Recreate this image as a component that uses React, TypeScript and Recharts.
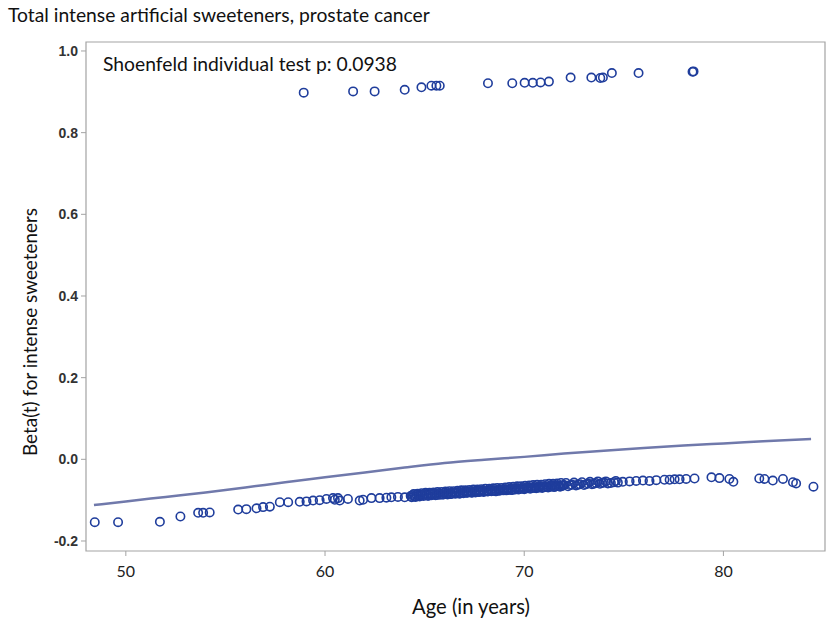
import React from "react";
import {
  ComposedChart,
  XAxis,
  YAxis,
  Scatter,
  Line,
  ReferenceArea,
} from "recharts";

const xTicks = [50, 60, 70, 80];
const yTicks = [-0.2, 0, 0.2, 0.4, 0.6, 0.8, 1.0];

const topAges = [58.93, 61.41, 62.49, 64.0, 64.84, 65.34, 65.59, 65.76, 68.18, 69.4, 70.02, 70.43, 70.82, 71.24, 72.33, 73.37, 73.82, 73.95, 74.4, 75.74, 78.45, 78.5];
const topBetas = [0.898, 0.901, 0.901, 0.905, 0.911, 0.915, 0.915, 0.915, 0.921, 0.921, 0.922, 0.922, 0.923, 0.925, 0.935, 0.935, 0.934, 0.935, 0.946, 0.946, 0.949, 0.95];

const bottomAges = [
  48.44, 49.61, 51.71, 52.74, 53.63, 53.88, 54.21, 55.64, 56.05, 56.56, 56.89, 57.23, 57.73, 58.15,
  58.73, 59.07, 59.4, 59.73, 60.07, 60.4, 60.65,
  60.49, 60.74, 61.15, 61.74, 61.91, 62.33, 62.74, 63.08, 63.33, 63.66, 64.0,
  64.3, 64.4, 64.5, 64.6, 64.7, 64.8, 64.9, 65.0, 65.1, 65.2, 65.3, 65.4, 65.5, 65.6, 65.7, 65.8, 65.9,
  66.0, 66.1, 66.2, 66.3, 66.4, 66.5, 66.6, 66.7, 66.8, 66.9, 67.0, 67.1, 67.2, 67.3, 67.4, 67.5, 67.6,
  67.7, 67.8, 67.9, 68.0, 68.1, 68.2, 68.3, 68.4, 68.5, 68.6, 68.7, 68.8, 68.9, 69.0, 69.1, 69.2, 69.3,
  69.4, 69.5, 69.6, 69.7, 69.8, 69.9, 70.0, 70.1, 70.2, 70.3, 70.4, 70.5, 70.6, 70.7, 70.8, 70.9, 71.0,
  71.1, 71.2, 71.3, 71.4, 71.5, 71.6, 71.7, 71.8, 71.9, 72.0, 72.2, 72.4, 72.6, 72.8, 73.0, 73.2, 73.4,
  73.6, 73.8, 74.0, 74.2, 74.5, 74.7,
  74.95, 75.29, 75.62, 75.96, 76.29, 76.63, 77.04, 77.3, 77.55, 77.8, 78.13, 78.55,
  79.4, 79.8, 80.3, 80.5, 81.8, 82.06, 82.48, 82.99, 83.49, 83.65, 84.52,
];
const bottomBetas = [
  -0.154, -0.154, -0.153, -0.14, -0.131, -0.131, -0.13, -0.123, -0.122, -0.12, -0.117, -0.116, -0.105, -0.105,
  -0.104, -0.103, -0.101, -0.1, -0.097, -0.095, -0.095,
  -0.099, -0.101, -0.097, -0.101, -0.099, -0.095, -0.095, -0.094, -0.093, -0.092, -0.093,
  -0.09, -0.088, -0.091, -0.087, -0.089, -0.086, -0.088, -0.085, -0.087, -0.089, -0.085, -0.086, -0.084, -0.087, -0.083, -0.085, -0.086,
  -0.082, -0.084, -0.083, -0.085, -0.081, -0.083, -0.082, -0.08, -0.083, -0.081, -0.079, -0.082, -0.08, -0.078, -0.081, -0.079, -0.077,
  -0.08, -0.078, -0.076, -0.079, -0.077, -0.078, -0.075, -0.077, -0.076, -0.078, -0.074, -0.076, -0.075, -0.073, -0.076, -0.074, -0.072,
  -0.075, -0.073, -0.071, -0.074, -0.072, -0.07, -0.073, -0.071, -0.069, -0.072, -0.07, -0.068, -0.071, -0.069, -0.067, -0.07, -0.068,
  -0.066, -0.069, -0.067, -0.065, -0.068, -0.066, -0.064, -0.067, -0.065, -0.063, -0.066, -0.062, -0.064, -0.061, -0.063, -0.059, -0.061,
  -0.058, -0.06, -0.057, -0.059, -0.056, -0.057,
  -0.055, -0.054, -0.053, -0.052, -0.053, -0.051, -0.05, -0.05, -0.049, -0.049, -0.048, -0.047,
  -0.044, -0.046, -0.048, -0.055, -0.047, -0.048, -0.052, -0.048, -0.056, -0.059, -0.067,
];

// second, interleaved layer of the dense middle band
const bandAges = [
  64.35, 64.45, 64.55, 64.65, 64.75, 64.85, 64.95, 65.05, 65.15, 65.25, 65.35, 65.45, 65.55, 65.65, 65.75, 65.85, 65.95,
  66.05, 66.15, 66.25, 66.35, 66.45, 66.55, 66.65, 66.75, 66.85, 66.95, 67.05, 67.15, 67.25, 67.35, 67.45, 67.55, 67.65,
  67.75, 67.85, 67.95, 68.05, 68.15, 68.25, 68.35, 68.45, 68.55, 68.65, 68.75, 68.85, 68.95, 69.05, 69.15, 69.25, 69.35,
  69.45, 69.55, 69.65, 69.75, 69.85, 69.95, 70.05, 70.15, 70.25, 70.35, 70.45, 70.55, 70.65, 70.75, 70.85, 70.95, 71.05,
  71.15, 71.25, 71.35, 71.45, 71.55, 71.65, 71.75, 71.85, 71.95, 72.1, 72.3, 72.5, 72.7, 72.9, 73.1, 73.3, 73.5, 73.7,
  73.9, 74.1, 74.35, 74.6,
];
const bandBetas = [
  -0.093, -0.085, -0.092, -0.084, -0.091, -0.083, -0.09, -0.082, -0.089, -0.082, -0.088, -0.081, -0.088, -0.08, -0.087, -0.08, -0.086,
  -0.079, -0.086, -0.078, -0.085, -0.078, -0.084, -0.077, -0.084, -0.076, -0.083, -0.076, -0.082, -0.075, -0.082, -0.074, -0.081, -0.074,
  -0.08, -0.073, -0.08, -0.072, -0.079, -0.072, -0.078, -0.071, -0.078, -0.07, -0.077, -0.07, -0.076, -0.069, -0.075, -0.068, -0.075,
  -0.067, -0.074, -0.066, -0.073, -0.066, -0.072, -0.065, -0.071, -0.064, -0.07, -0.063, -0.07, -0.062, -0.069, -0.062, -0.068, -0.061,
  -0.067, -0.06, -0.066, -0.06, -0.065, -0.059, -0.064, -0.058, -0.064, -0.058, -0.063, -0.057, -0.062, -0.056, -0.061, -0.055, -0.06, -0.054,
  -0.058, -0.054, -0.058, -0.053,
];

const curveAges = [48.4, 50, 52, 54, 56, 58, 60, 62, 64, 66, 68, 70, 72, 74, 76, 78, 80, 82, 84.4];
const curveBetas = [-0.112, -0.103, -0.092, -0.081, -0.069, -0.056, -0.044, -0.032, -0.02, -0.009, -0.001, 0.006, 0.014, 0.021, 0.028, 0.034, 0.039, 0.044, 0.05];

const topData = topAges.map((a, i) => ({ age: a, beta: topBetas[i] }));
const bottomData = bottomAges.map((a, i) => ({ age: a, beta: bottomBetas[i] }));
const bandData = bandAges.map((a, i) => ({ age: a, beta: bandBetas[i] }));
const curveData = curveAges.map((a, i) => ({ age: a, beta: curveBetas[i] }));

const X_DOMAIN: [number, number] = [48, 85.1];
const Y_DOMAIN: [number, number] = [-0.2245, 1.022];

const POINT = "#1f3d9c";
const FRAME = "#a3a3a3";
const FONT = "Lato, 'Open Sans', sans-serif";

const Circle = (props: any) => {
  const { cx, cy } = props;
  if (cx == null || cy == null) return null;
  return <circle cx={cx} cy={cy} r={4.2} fill="none" stroke={POINT} strokeWidth={1.6} />;
};

export default function App() {
  return (
    <div style={{ position: "absolute", left: 0, top: 0, width: 840, height: 628, background: "#fff" }}>
      <ComposedChart
        width={840}
        height={628}
        margin={{ top: 42, right: 15, bottom: 47, left: 26 }}
      >
        <XAxis
          type="number"
          dataKey="age"
          domain={X_DOMAIN}
          ticks={xTicks}
          allowDataOverflow
          axisLine={false}
          tickLine={{ stroke: FRAME }}
          tickSize={5}
          tickMargin={10}
          height={30}
          tick={{ fill: "#222", fontSize: 16, fontFamily: FONT }}
        />
        <YAxis
          type="number"
          dataKey="beta"
          domain={Y_DOMAIN}
          ticks={yTicks}
          allowDataOverflow
          axisLine={false}
          tickLine={{ stroke: FRAME }}
          tickSize={5}
          tickMargin={3}
          width={60}
          tickFormatter={(v: number) => v.toFixed(1)}
          tick={{ fill: "#333", fontSize: 14, fontWeight: 700, fontFamily: "'Liberation Sans', Arial, sans-serif" }}
        />
        <ReferenceArea
          x1={X_DOMAIN[0]}
          x2={X_DOMAIN[1]}
          y1={Y_DOMAIN[0]}
          y2={Y_DOMAIN[1]}
          fill="none"
          stroke={FRAME}
          strokeWidth={1.2}
          ifOverflow="visible"
        />
        <Line
          data={curveData}
          dataKey="beta"
          type="monotone"
          stroke="#7079ab"
          strokeWidth={2.5}
          dot={false}
          activeDot={false}
          isAnimationActive={false}
        />
        <Scatter data={bottomData} dataKey="beta" shape={Circle} isAnimationActive={false} />
        <Scatter data={bandData} dataKey="beta" shape={Circle} isAnimationActive={false} />
        <Scatter data={topData} dataKey="beta" shape={Circle} isAnimationActive={false} />
      </ComposedChart>
      <svg
        width={840}
        height={628}
        style={{ position: "absolute", left: 0, top: 0, pointerEvents: "none" }}
      >
        <text x={8} y={22} fontFamily={FONT} fontSize={19.3} fill="#111">
          Total intense artificial sweeteners, prostate cancer
        </text>
        <text x={103} y={71} fontFamily={FONT} fontSize={19.3} fill="#111">
          Shoenfeld individual test p: 0.0938
        </text>
        <text x={471} y={614} fontFamily={FONT} fontSize={20.2} fill="#111" textAnchor="middle">
          Age (in years)
        </text>
        <text
          x={0}
          y={0}
          transform="translate(37,332) rotate(-90)"
          fontFamily={FONT}
          fontSize={18.9}
          fill="#111"
          textAnchor="middle"
        >
          Beta(t) for intense sweeteners
        </text>
      </svg>
    </div>
  );
}
